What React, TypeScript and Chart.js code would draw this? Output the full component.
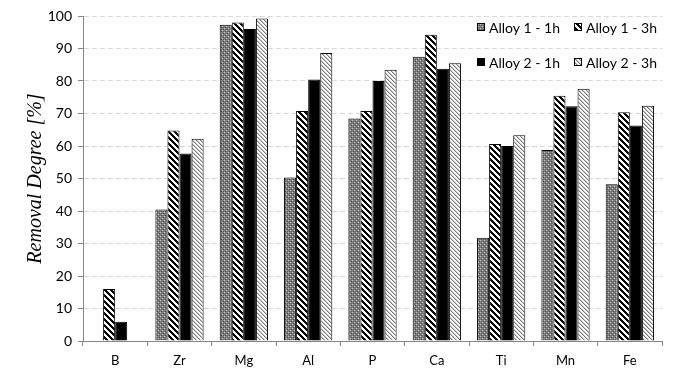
import React, { useEffect, useRef } from "react";
import { Chart, registerables } from "chart.js";

Chart.register(...registerables);

const categories = ["B", "Zr", "Mg", "Al", "P", "Ca", "Ti", "Mn", "Fe"];
const seriesNames = ["Alloy 1 - 1h", "Alloy 1 - 3h", "Alloy 2 - 1h", "Alloy 2 - 3h"];
const alloy1h1 = [0, 40.5, 97.3, 50.3, 68.5, 87.5, 31.8, 58.8, 48.2];
const alloy1h3 = [16, 64.8, 98, 70.8, 70.8, 94.2, 60.6, 75.5, 70.4];
const alloy2h1 = [5.9, 57.7, 96, 80.5, 80, 83.8, 60, 72.2, 66.3];
const alloy2h3 = [0, 62.2, 99.2, 88.6, 83.5, 85.5, 63.3, 77.6, 72.4];
const yTicks = [0, 10, 20, 30, 40, 50, 60, 70, 80, 90, 100];

function makeTile(size: number, draw: (ctx: CanvasRenderingContext2D) => void) {
  const c = document.createElement("canvas");
  c.width = size;
  c.height = size;
  const ctx = c.getContext("2d")!;
  draw(ctx);
  return c;
}

function px(ctx: CanvasRenderingContext2D, x: number, y: number, color: string) {
  ctx.fillStyle = color;
  ctx.fillRect(x, y, 1, 1);
}

function buildPatterns(ctx: CanvasRenderingContext2D) {
  const grid = makeTile(4, (t) => {
    t.fillStyle = "#808080";
    t.fillRect(0, 0, 4, 4);
    px(t, 0, 0, "#c4c4c4");
    px(t, 2, 2, "#c4c4c4");
    px(t, 1, 3, "#4a4a4a");
    px(t, 3, 1, "#4a4a4a");
    px(t, 1, 1, "#606060");
    px(t, 3, 3, "#606060");
  });
  const wide = makeTile(6, (t) => {
    t.fillStyle = "#ffffff";
    t.fillRect(0, 0, 6, 6);
    for (let y = 0; y < 6; y++)
      for (let x = 0; x < 6; x++) {
        const d = (((x - y) % 6) + 6) % 6;
        if (d < 3) px(t, x, y, "#000000");
      }
  });
  const light = makeTile(4, (t) => {
    t.fillStyle = "#ffffff";
    t.fillRect(0, 0, 4, 4);
    for (let y = 0; y < 4; y++)
      for (let x = 0; x < 4; x++) {
        const d = (((x - y) % 4) + 4) % 4;
        if (d === 0) px(t, x, y, "#7a7a7a");
        else if (d === 1) px(t, x, y, "#c8c8c8");
      }
  });
  return [
    ctx.createPattern(grid, "repeat")!,
    ctx.createPattern(wide, "repeat")!,
    "#000000",
    ctx.createPattern(light, "repeat")!,
  ];
}

const legendPlugin = {
  id: "customLegend",
  afterDraw(chart: any) {
    const { ctx, chartArea } = chart;
    const startX = chartArea.right - 185;
    const colW = 97;
    const rowY = [chartArea.top + 11, chartArea.top + 46];
    ctx.save();
    ctx.font = "14px Lato";
    ctx.textBaseline = "middle";
    ctx.textAlign = "left";
    chart.data.datasets.forEach((ds: any, i: number) => {
      const col = i % 2;
      const row = Math.floor(i / 2);
      const x = startX + col * colW;
      const y = rowY[row];
      ctx.fillStyle = ds.backgroundColor;
      ctx.fillRect(x, y - 4, 8, 8);
      ctx.strokeStyle = "#000";
      ctx.lineWidth = 1;
      ctx.strokeRect(x + 0.5, y - 3.5, 7, 7);
      ctx.fillStyle = "#000";
      ctx.fillText(ds.label, x + 12, y + 1);
    });
    ctx.restore();
  },
};

export default function App() {
  const ref = useRef<HTMLCanvasElement>(null);
  useEffect(() => {
    document.body.style.margin = "0";
    const canvas = ref.current!;
    const ctx = canvas.getContext("2d")!;
    const pats = buildPatterns(ctx);
    const values = [alloy1h1, alloy1h3, alloy2h1, alloy2h3];
    const chart = new Chart(canvas, {
      type: "bar",
      data: {
        labels: categories,
        datasets: seriesNames.map((name, i) => ({
          label: name,
          data: values[i],
          backgroundColor: pats[i] as any,
          borderColor: "#000000",
          borderWidth: 1,
          categoryPercentage: 0.75,
          barPercentage: 1.0,
        })),
      },
      options: {
        animation: false,
        responsive: false,
        maintainAspectRatio: false,
        layout: { padding: { left: 0, right: 15, top: 16, bottom: 0 } },
        plugins: {
          legend: { display: false },
          tooltip: { enabled: false },
        },
        scales: {
          x: {
            offset: true,
            grid: {
              offset: true,
              drawOnChartArea: false,
              drawTicks: true,
              tickLength: 5,
              color: "#868686",
            },
            border: { color: "#868686", width: 1 },
            ticks: {
              padding: 7,
              color: "#000000",
              font: { family: "Lato", size: 13 },
            },
            afterFit: (s: any) => {
              s.height = 37;
            },
          },
          y: {
            min: 0,
            max: 100,
            afterBuildTicks: (s: any) => {
              s.ticks = yTicks.map((v) => ({ value: v }));
            },
            grid: {
              color: "#d9d9d9",
              tickColor: "#868686",
              tickLength: 5,
              lineWidth: 1,
            },
            border: { color: "#868686", width: 1, dash: [5, 3] },
            ticks: {
              padding: 6,
              color: "#000000",
              font: { family: "Lato", size: 14 },
            },
            title: {
              display: true,
              text: "Removal Degree [%]",
              color: "#000000",
              font: { family: "Liberation Serif", style: "italic", size: 20 },
              padding: { top: 24, bottom: 0 },
            },
            afterFit: (s: any) => {
              s.width = 83;
            },
          },
        },
      },
      plugins: [legendPlugin],
    });
    return () => chart.destroy();
  }, []);
  return (
    <div style={{ width: 677, height: 378 }}>
      <canvas ref={ref} width={677} height={378} style={{ display: "block" }} />
    </div>
  );
}
